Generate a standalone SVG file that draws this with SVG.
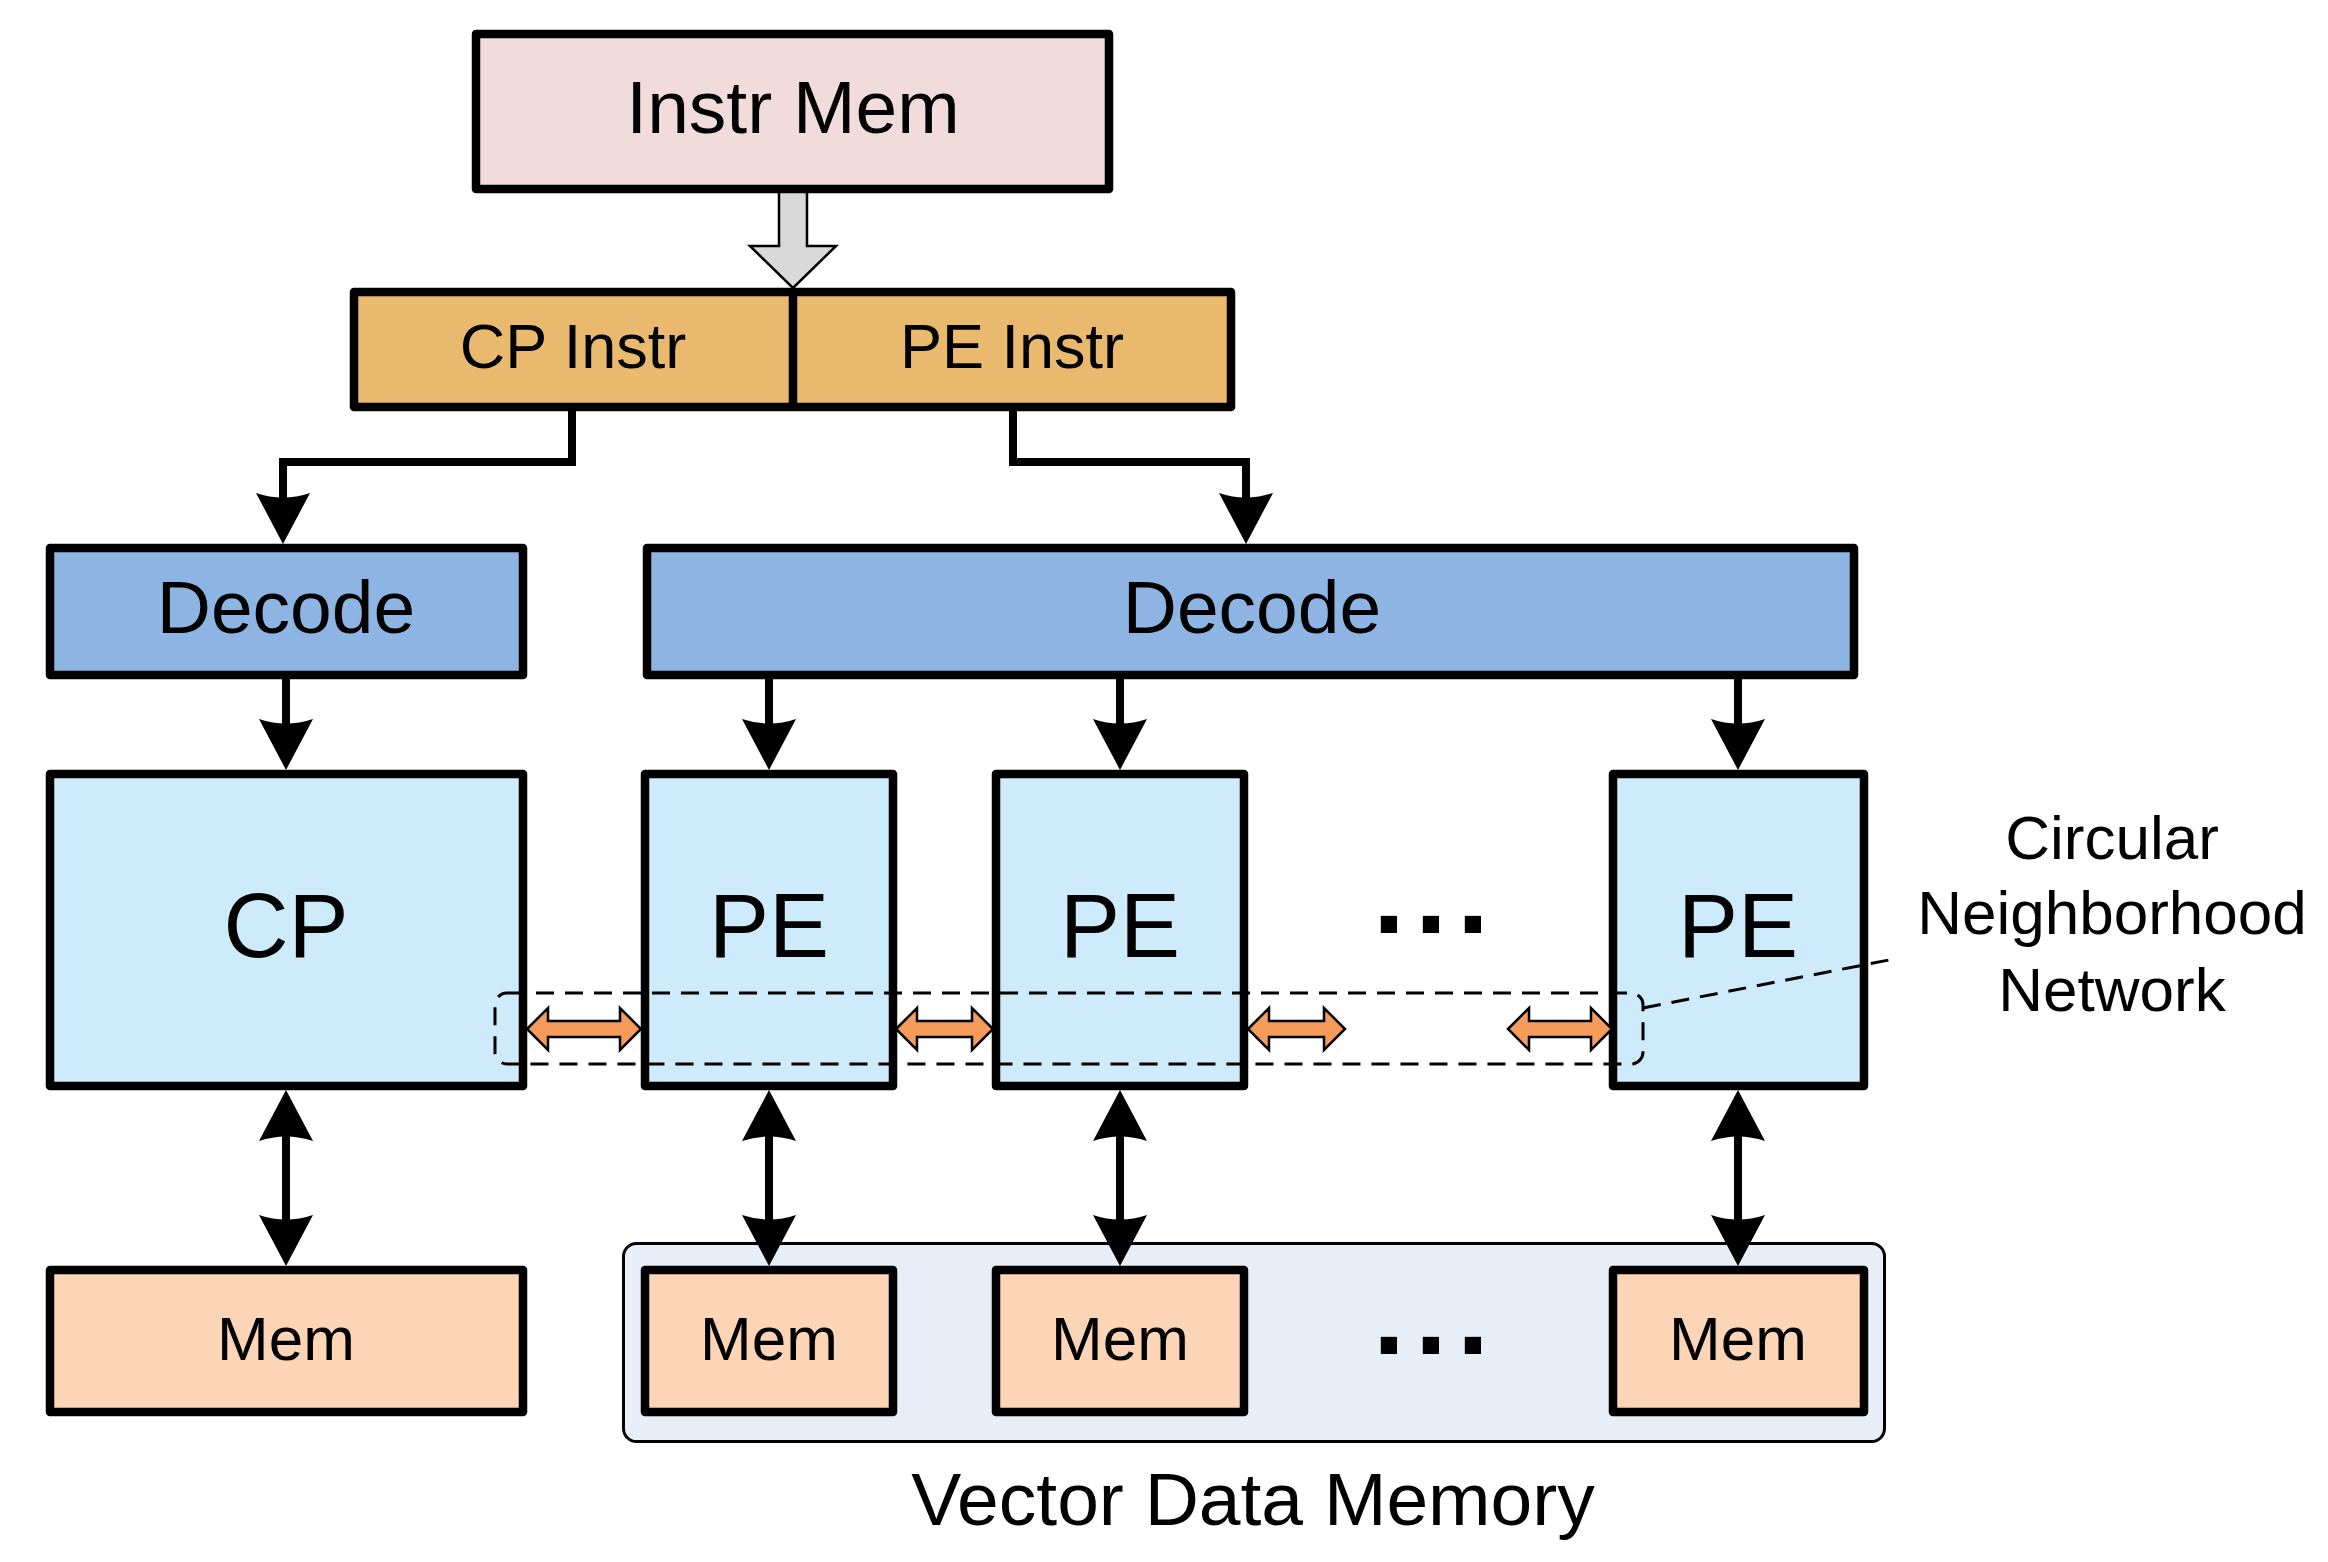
<svg xmlns="http://www.w3.org/2000/svg" xmlns:xlink="http://www.w3.org/1999/xlink" width="2328" height="1562" viewBox="0 0 2328 1562">
<style>
.box{stroke:#000;stroke-width:8.5;stroke-linejoin:round}
.lbl{font-family:"Liberation Sans",Arial,sans-serif;fill:#000;text-anchor:middle}
.wire{fill:none;stroke:#000;stroke-width:8}
.orng{fill:#F69C5A;stroke:#000;stroke-width:2.5;stroke-linejoin:miter}
.dash{fill:none;stroke:#000;stroke-width:3;stroke-dasharray:18 11}
.dots{font-family:"Liberation Sans",Arial,sans-serif;font-weight:bold;font-size:115px;letter-spacing:10px;fill:#000}
</style>
<defs>
<path id="ah" d="M0,0 L-27,-51 Q0,-42 27,-51 Z" fill="#000"/>
</defs>
<rect width="2328" height="1562" fill="#fff"/>

<g id="vector-data-memory">
<rect x="623.5" y="1243.5" width="1261" height="198" rx="13" fill="#E7EEF8" stroke="#000" stroke-width="3"/>
<text class="lbl" x="1253" y="1525" font-size="75">Vector Data Memory</text>
</g>

<g id="connectors">
<path d="M779,190 L807,190 L807,246 L836,246 L793,288 L750,246 L779,246 Z" fill="#D9D9D9" stroke="#000" stroke-width="2.5" stroke-linejoin="miter"/>
<polyline class="wire" points="572,411 572,462 283,462 283,505"/>
<use xlink:href="#ah" x="283" y="544"/>
<polyline class="wire" points="1013,411 1013,462 1246,462 1246,505"/>
<use xlink:href="#ah" x="1246" y="544"/>
<line class="wire" x1="286" y1="679" x2="286" y2="731"/>
<use xlink:href="#ah" x="286" y="770"/>
<line class="wire" x1="769" y1="679" x2="769" y2="731"/>
<use xlink:href="#ah" x="769" y="770"/>
<line class="wire" x1="1120" y1="679" x2="1120" y2="731"/>
<use xlink:href="#ah" x="1120" y="770"/>
<line class="wire" x1="1738" y1="679" x2="1738" y2="731"/>
<use xlink:href="#ah" x="1738" y="770"/>
<line class="wire" x1="286" y1="1128" x2="286" y2="1228"/>
<use xlink:href="#ah" transform="translate(286,1090) rotate(180)"/>
<use xlink:href="#ah" x="286" y="1266"/>
<line class="wire" x1="769" y1="1128" x2="769" y2="1228"/>
<use xlink:href="#ah" transform="translate(769,1090) rotate(180)"/>
<use xlink:href="#ah" x="769" y="1266"/>
<line class="wire" x1="1120" y1="1128" x2="1120" y2="1228"/>
<use xlink:href="#ah" transform="translate(1120,1090) rotate(180)"/>
<use xlink:href="#ah" x="1120" y="1266"/>
<line class="wire" x1="1738" y1="1128" x2="1738" y2="1228"/>
<use xlink:href="#ah" transform="translate(1738,1090) rotate(180)"/>
<use xlink:href="#ah" x="1738" y="1266"/>
</g>

<g id="instr-mem">
<rect class="box" x="476" y="34" width="633" height="155" fill="#F2DCDB"/>
<text class="lbl" x="793" y="133" font-size="75">Instr Mem</text>
</g>

<g id="instr">
<rect class="box" x="354" y="292" width="877" height="115" fill="#E9B96E"/>
<line x1="793" y1="292" x2="793" y2="407" stroke="#000" stroke-width="8.5"/>
<text class="lbl" x="573" y="368" font-size="63">CP Instr</text>
<text class="lbl" x="1012" y="368" font-size="63">PE Instr</text>
</g>

<g id="decode-cp">
<rect class="box" x="50" y="548" width="473" height="127" fill="#8EB4E3"/>
<text class="lbl" x="286" y="633" font-size="75">Decode</text>
</g>

<g id="decode-pe">
<rect class="box" x="647" y="548" width="1207" height="127" fill="#8EB4E3"/>
<text class="lbl" x="1252" y="633" font-size="75">Decode</text>
</g>

<g id="cp">
<rect class="box" x="50" y="774" width="473" height="312" fill="#CDEBFA"/>
<text class="lbl" x="286" y="957" font-size="90">CP</text>
</g>
<g id="pe1">
<rect class="box" x="645" y="774" width="248" height="312" fill="#CDEBFA"/>
<text class="lbl" x="769" y="957" font-size="90">PE</text>
</g>
<g id="pe2">
<rect class="box" x="996" y="774" width="248" height="312" fill="#CDEBFA"/>
<text class="lbl" x="1120" y="957" font-size="90">PE</text>
</g>
<g id="pe3">
<rect class="box" x="1613" y="774" width="251" height="312" fill="#CDEBFA"/>
<text class="lbl" x="1738" y="957" font-size="90">PE</text>
</g>
<g id="pe-dots">
<text class="dots" x="1373" y="933">...</text>
</g>

<g id="mem-cp">
<rect class="box" x="50" y="1270" width="473" height="142" fill="#FBD5B5"/>
<text class="lbl" x="286" y="1360" font-size="62">Mem</text>
</g>
<g id="mem1">
<rect class="box" x="645" y="1270" width="248" height="142" fill="#FBD5B5"/>
<text class="lbl" x="769" y="1360" font-size="62">Mem</text>
</g>
<g id="mem2">
<rect class="box" x="996" y="1270" width="248" height="142" fill="#FBD5B5"/>
<text class="lbl" x="1120" y="1360" font-size="62">Mem</text>
</g>
<g id="mem3">
<rect class="box" x="1613" y="1270" width="251" height="142" fill="#FBD5B5"/>
<text class="lbl" x="1738" y="1360" font-size="62">Mem</text>
</g>
<g id="mem-dots">
<text class="dots" x="1373" y="1354">...</text>
</g>

<g id="neighborhood-network">
<rect class="dash" x="495" y="993" width="1148" height="71" rx="12"/>
<line class="dash" x1="1643" y1="1008" x2="1889" y2="960"/>
<path class="orng" d="M527,1029 L548,1008 L548,1021 L620,1021 L620,1008 L641,1029 L620,1050 L620,1037 L548,1037 L548,1050 Z"/>
<path class="orng" d="M896,1029 L917,1008 L917,1021 L972,1021 L972,1008 L993,1029 L972,1050 L972,1037 L917,1037 L917,1050 Z"/>
<path class="orng" d="M1248,1029 L1269,1008 L1269,1021 L1324,1021 L1324,1008 L1345,1029 L1324,1050 L1324,1037 L1269,1037 L1269,1050 Z"/>
<path class="orng" d="M1508,1029 L1529,1008 L1529,1021 L1591,1021 L1591,1008 L1612,1029 L1591,1050 L1591,1037 L1529,1037 L1529,1050 Z"/>
<text class="lbl" x="2112" y="859" font-size="62">Circular</text>
<text class="lbl" x="2112" y="934" font-size="62">Neighborhood</text>
<text class="lbl" x="2112" y="1011" font-size="62">Network</text>
</g>
</svg>
